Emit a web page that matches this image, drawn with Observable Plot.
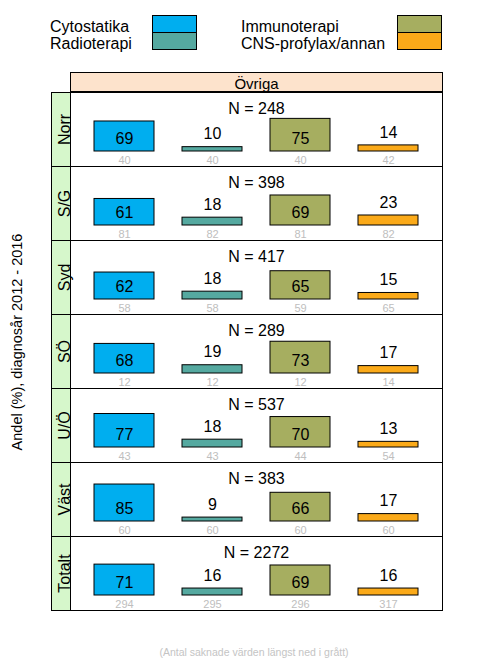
<!DOCTYPE html>
<html>
<head>
<meta charset="utf-8">
<script src="https://cdn.jsdelivr.net/npm/d3@7"></script>
<script src="https://cdn.jsdelivr.net/npm/@observablehq/plot@0.6"></script>
<style>
  html, body { margin: 0; padding: 0; background: #fff; }
  body { font-family: "Liberation Sans", Arial, sans-serif; }
  #wrap { position: relative; width: 480px; height: 672px; overflow: hidden; }
  #wrap svg { position: absolute; left: 0; top: 0; }
  .leg-text { position: absolute; font-size: 16px; line-height: 17px; white-space: nowrap; color: #000; }
  .leg-box { position: absolute; box-sizing: border-box; border: 1px solid #000; }
  #header { position: absolute; left: 70px; top: 72px; width: 373px; height: 20px; box-sizing: border-box;
            border: 1px solid #000; background: #FDE3CC; font-size: 15px; text-align: center; line-height: 22px; }
  #ylab { position: absolute; left: 17px; top: 342px; font-size: 14.5px; white-space: nowrap;
          transform: translate(-50%, -50%) rotate(-90deg); }
  #cap { position: absolute; left: 254px; top: 652px; font-size: 10.5px; color: #C4C4C4; white-space: nowrap;
         transform: translate(-50%, -50%); }
</style>
</head>
<body>
<div id="wrap"></div>
<script>
// ---- data ----
const regions = ["Norr", "S/G", "Syd", "SÖ", "U/Ö", "Väst", "Totalt"];
const treatments = ["Cytostatika", "Radioterapi", "Immunoterapi", "CNS-profylax/annan"];
const colors = ["#00AEEF", "#55A9A0", "#A6AE60", "#FBAA19"];
const nValues = [248, 398, 417, 289, 537, 383, 2272];
const cytostatika  = [69, 61, 62, 68, 77, 85, 71];
const radioterapi  = [10, 18, 18, 19, 18, 9, 16];
const immunoterapi = [75, 69, 65, 73, 70, 66, 69];
const cnsProfylax  = [14, 23, 15, 17, 13, 17, 16];
const missCyto   = [40, 81, 58, 12, 43, 60, 294];
const missRadio  = [40, 82, 58, 12, 43, 60, 295];
const missImmuno = [40, 81, 59, 12, 44, 60, 296];
const missCns    = [42, 82, 65, 14, 54, 60, 317];
const panelTitle = "Övriga";
const yLabel = "Andel (%), diagnosår 2012 - 2016";
const caption = "(Antal saknade värden längst ned i grått)";

// ---- build table ----
const seriesVals = [cytostatika, radioterapi, immunoterapi, cnsProfylax];
const seriesMiss = [missCyto, missRadio, missImmuno, missCns];
const rows = [];
regions.forEach((r, i) => {
  treatments.forEach((t, j) => {
    rows.push({region: r, treatment: t, value: seriesVals[j][i], missing: seriesMiss[j][i]});
  });
});
const nRows = regions.map((r, i) => ({region: r, n: nValues[i]}));

// ---- layout ----
const W = 480, H = 672;
const mt = 91, mb = 62, ml = 70, mr = 38;
const innerW = W - ml - mr;
const font = "'Liberation Sans', Arial, sans-serif";

const chart = Plot.plot({
  width: W,
  height: H,
  marginTop: mt,
  marginBottom: mb,
  marginLeft: ml,
  marginRight: mr,
  style: {fontFamily: font, background: "transparent", overflow: "visible", color: "#000"},
  fy: {domain: regions, padding: 0, axis: null},
  x: {domain: treatments, paddingInner: 0.318, paddingOuter: 0.27, axis: null},
  y: {domain: [0, 100], insetTop: 15.5, insetBottom: 15, axis: null},
  color: {domain: treatments, range: colors},
  marks: [
    Plot.frame({fill: "#D6F7CB", stroke: "#000", strokeWidth: 1, insetLeft: -19, insetRight: innerW}),
    Plot.frame({stroke: "#000", strokeWidth: 1}),
    Plot.barY(rows, {fy: "region", x: "treatment", y: "value", fill: "treatment", stroke: "#000", strokeWidth: 1}),
    Plot.text(rows.filter(d => d.value >= 40), {fy: "region", x: "treatment", y: () => 0, text: d => String(d.value),
      dy: -13, fontSize: 16, fill: "#000"}),
    Plot.text(rows.filter(d => d.value < 40), {fy: "region", x: "treatment", y: "value", text: d => String(d.value),
      dy: -13, fontSize: 16, fill: "#000"}),
    Plot.text(rows, {fy: "region", x: "treatment", y: () => 0, text: d => String(d.missing),
      dy: 9, fontSize: 11, fill: "#BEBEBE"}),
    Plot.text(nRows, {fy: "region", text: d => `N = ${d.n}`, frameAnchor: "top", dy: 10, fontSize: 16, fill: "#000"}),
    Plot.text(regions, {fy: d => d, text: d => d, frameAnchor: "left", textAnchor: "middle", dx: -6, rotate: -90,
      fontSize: 16, fill: "#000"})
  ]
});

const wrap = document.getElementById("wrap");
wrap.appendChild(chart);

// header strip
const header = document.createElement("div");
header.id = "header";
header.textContent = panelTitle;
wrap.appendChild(header);

// legend
const legCols = [
  {textLeft: 50, boxLeft: 152, items: [0, 1]},
  {textLeft: 241, boxLeft: 397, items: [2, 3]}
];
legCols.forEach(col => {
  col.items.forEach((k, r) => {
    const t = document.createElement("div");
    t.className = "leg-text";
    t.style.left = col.textLeft + "px";
    t.style.top = (18 + 17 * r) + "px";
    t.textContent = treatments[k];
    wrap.appendChild(t);
    const b = document.createElement("div");
    b.className = "leg-box";
    b.style.left = col.boxLeft + "px";
    b.style.top = (15 + 17 * r) + "px";
    b.style.width = "45px";
    b.style.height = "18px";
    b.style.background = colors[k];
    wrap.appendChild(b);
  });
});

// y label
const yl = document.createElement("div");
yl.id = "ylab";
yl.textContent = yLabel;
wrap.appendChild(yl);

// caption
const cp = document.createElement("div");
cp.id = "cap";
cp.textContent = caption;
wrap.appendChild(cp);
</script>
</body>
</html>
